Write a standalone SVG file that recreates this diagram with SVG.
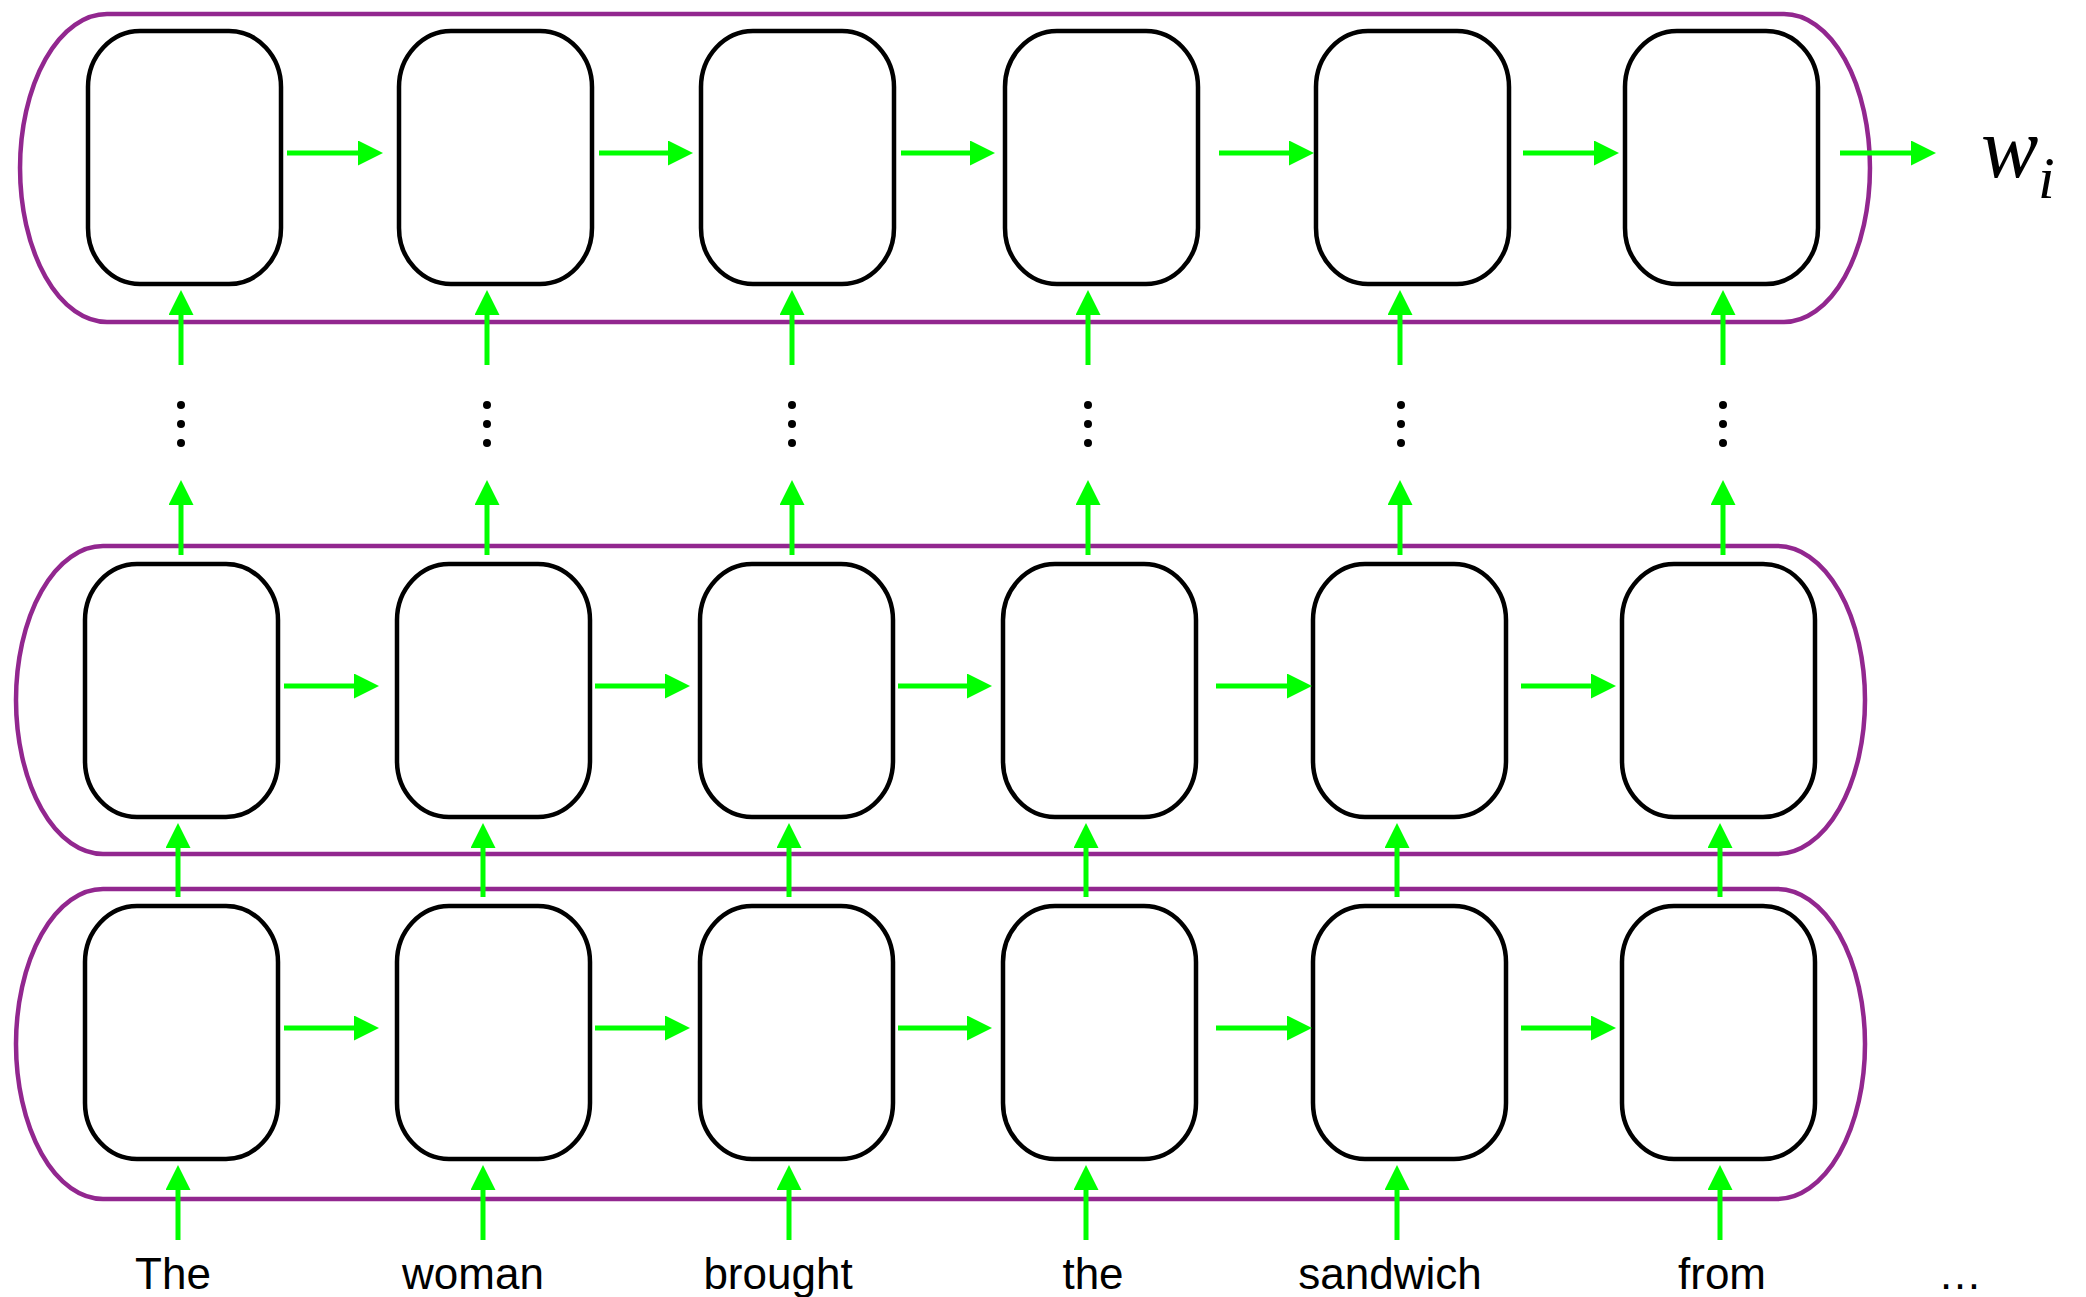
<svg xmlns="http://www.w3.org/2000/svg" xmlns:xlink="http://www.w3.org/1999/xlink" width="2086" height="1297" viewBox="0 0 2086 1297">
  <style>
    .layer { fill: none; stroke: #92278f; stroke-width: 4.5; }
    .cell { fill: none; stroke: #000; stroke-width: 4.5; }
    .flow { fill: none; stroke: #00ff00; stroke-width: 5; marker-end: url(#head); }
    .word { font-family: "Liberation Sans", Arial, sans-serif; font-size: 44px; fill: #000; text-anchor: middle; }
    .math { font-family: "Liberation Serif", "Times New Roman", serif; font-style: italic; fill: #000; }
    .dot { fill: #000; }
  </style>
  <defs>
    <!-- rounded cell, 193 x 253 -->
    <path id="cellShape" class="cell" d="M52,0 h89 c28.6,0 52,25.2 52,56 v141 c0,30.8 -23.4,56 -52,56 h-89 c-28.6,0 -52,-25.2 -52,-56 v-141 c0,-30.8 23.4,-56 52,-56 z"/>
    <marker id="head" markerUnits="userSpaceOnUse" viewBox="0 0 25 25" refX="2" refY="12.5" markerWidth="25" markerHeight="25" orient="auto">
      <path d="M0,0 L25,12.5 L0,25 z" fill="#00ff00"/>
    </marker>
  </defs>

  <!-- layer outlines -->
  <g id="layers">
    <path id="layer-top" class="layer" d="M107,14 H1784 A86,154 0 0 1 1784,322 H107 A87,154 0 0 1 107,14 Z"/>
    <path id="layer-mid" class="layer" d="M103,546 H1777 A88,154 0 0 1 1777,854 H103 A87,154 0 0 1 103,546 Z"/>
    <path id="layer-bot" class="layer" d="M103,889 H1777 A88,155 0 0 1 1777,1199 H103 A87,155 0 0 1 103,889 Z"/>
  </g>

  <!-- top layer cells -->
  <g id="top-1"><use xlink:href="#cellShape" href="#cellShape" x="88" y="31"/></g>
  <g id="top-2"><use xlink:href="#cellShape" href="#cellShape" x="399" y="31"/></g>
  <g id="top-3"><use xlink:href="#cellShape" href="#cellShape" x="701" y="31"/></g>
  <g id="top-4"><use xlink:href="#cellShape" href="#cellShape" x="1005" y="31"/></g>
  <g id="top-5"><use xlink:href="#cellShape" href="#cellShape" x="1316" y="31"/></g>
  <g id="top-6"><use xlink:href="#cellShape" href="#cellShape" x="1625" y="31"/></g>

  <!-- middle layer cells -->
  <g id="mid-1"><use xlink:href="#cellShape" href="#cellShape" x="85" y="564"/></g>
  <g id="mid-2"><use xlink:href="#cellShape" href="#cellShape" x="397" y="564"/></g>
  <g id="mid-3"><use xlink:href="#cellShape" href="#cellShape" x="700" y="564"/></g>
  <g id="mid-4"><use xlink:href="#cellShape" href="#cellShape" x="1003" y="564"/></g>
  <g id="mid-5"><use xlink:href="#cellShape" href="#cellShape" x="1313" y="564"/></g>
  <g id="mid-6"><use xlink:href="#cellShape" href="#cellShape" x="1622" y="564"/></g>

  <!-- bottom layer cells -->
  <g id="bot-1"><use xlink:href="#cellShape" href="#cellShape" x="85" y="906"/></g>
  <g id="bot-2"><use xlink:href="#cellShape" href="#cellShape" x="397" y="906"/></g>
  <g id="bot-3"><use xlink:href="#cellShape" href="#cellShape" x="700" y="906"/></g>
  <g id="bot-4"><use xlink:href="#cellShape" href="#cellShape" x="1003" y="906"/></g>
  <g id="bot-5"><use xlink:href="#cellShape" href="#cellShape" x="1313" y="906"/></g>
  <g id="bot-6"><use xlink:href="#cellShape" href="#cellShape" x="1622" y="906"/></g>

  <!-- connectors: line ends 23px short of the tip, marker supplies the head -->
  <g id="connectors">
    <!-- top layer, recurrent -->
    <path class="flow" d="M287,153 H360"/>
    <path class="flow" d="M599,153 H670"/>
    <path class="flow" d="M901,153 H972"/>
    <path class="flow" d="M1219,153 H1291"/>
    <path class="flow" d="M1523,153 H1596"/>
    <path class="flow" d="M1840,153 H1913"/>
    <!-- middle layer, recurrent -->
    <path class="flow" d="M284,686 H356"/>
    <path class="flow" d="M595,686 H667"/>
    <path class="flow" d="M898,686 H969"/>
    <path class="flow" d="M1216,686 H1289"/>
    <path class="flow" d="M1521,686 H1593"/>
    <!-- bottom layer, recurrent -->
    <path class="flow" d="M284,1028 H356"/>
    <path class="flow" d="M595,1028 H667"/>
    <path class="flow" d="M898,1028 H969"/>
    <path class="flow" d="M1216,1028 H1289"/>
    <path class="flow" d="M1521,1028 H1593"/>
    <!-- into top layer -->
    <path class="flow" d="M181,365 V313"/>
    <path class="flow" d="M487,365 V313"/>
    <path class="flow" d="M792,365 V313"/>
    <path class="flow" d="M1088,365 V313"/>
    <path class="flow" d="M1400,365 V313"/>
    <path class="flow" d="M1723,365 V313"/>
    <!-- out of middle layer -->
    <path class="flow" d="M181,555 V503"/>
    <path class="flow" d="M487,555 V503"/>
    <path class="flow" d="M792,555 V503"/>
    <path class="flow" d="M1088,555 V503"/>
    <path class="flow" d="M1400,555 V503"/>
    <path class="flow" d="M1723,555 V503"/>
    <!-- bottom to middle -->
    <path class="flow" d="M178,897 V846"/>
    <path class="flow" d="M483,897 V846"/>
    <path class="flow" d="M789,897 V846"/>
    <path class="flow" d="M1086,897 V846"/>
    <path class="flow" d="M1397,897 V846"/>
    <path class="flow" d="M1720,897 V846"/>
    <!-- word inputs -->
    <path class="flow" d="M178,1240 V1188"/>
    <path class="flow" d="M483,1240 V1188"/>
    <path class="flow" d="M789,1240 V1188"/>
    <path class="flow" d="M1086,1240 V1188"/>
    <path class="flow" d="M1397,1240 V1188"/>
    <path class="flow" d="M1720,1240 V1188"/>
  </g>

  <!-- vertical ellipses between layers -->
  <g id="ellipses">
    <circle class="dot" cx="181" cy="405" r="4"/><circle class="dot" cx="181" cy="424" r="4"/><circle class="dot" cx="181" cy="443" r="4"/>
    <circle class="dot" cx="487" cy="405" r="4"/><circle class="dot" cx="487" cy="424" r="4"/><circle class="dot" cx="487" cy="443" r="4"/>
    <circle class="dot" cx="792" cy="405" r="4"/><circle class="dot" cx="792" cy="424" r="4"/><circle class="dot" cx="792" cy="443" r="4"/>
    <circle class="dot" cx="1088" cy="405" r="4"/><circle class="dot" cx="1088" cy="424" r="4"/><circle class="dot" cx="1088" cy="443" r="4"/>
    <circle class="dot" cx="1401" cy="405" r="4"/><circle class="dot" cx="1401" cy="424" r="4"/><circle class="dot" cx="1401" cy="443" r="4"/>
    <circle class="dot" cx="1723" cy="405" r="4"/><circle class="dot" cx="1723" cy="424" r="4"/><circle class="dot" cx="1723" cy="443" r="4"/>
  </g>

  <!-- output symbol -->
  <g id="output">
    <text class="math" x="1981" y="177" font-size="86">w</text>
    <text class="math" x="2038" y="198" font-size="60">i</text>
  </g>

  <!-- input words -->
  <g id="words">
    <text class="word" x="173" y="1289">The</text>
    <text class="word" x="473" y="1289">woman</text>
    <text class="word" x="778" y="1289">brought</text>
    <text class="word" x="1093" y="1289">the</text>
    <text class="word" x="1390" y="1289">sandwich</text>
    <text class="word" x="1722" y="1289">from</text>
    <text class="word" x="1960" y="1289">…</text>
  </g>
</svg>
